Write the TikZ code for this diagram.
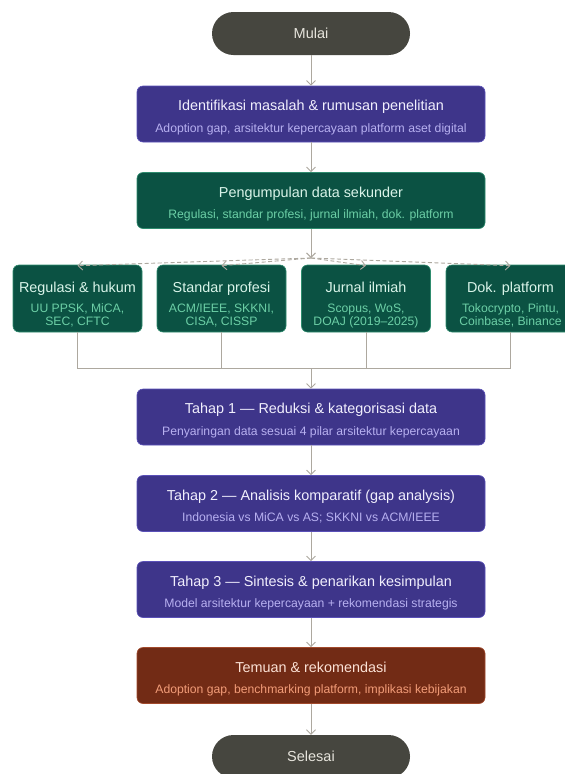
\documentclass[tikz,border=0pt]{standalone}
\usepackage{fontspec}
\setmainfont{Liberation Sans}
\usetikzlibrary{arrows.meta,calc}
\definecolor{pillfill}{HTML}{46463F}
\definecolor{pilltext}{HTML}{E6E4DC}
\definecolor{purfill}{HTML}{3E358A}
\definecolor{purline}{HTML}{5A50B8}
\definecolor{purtitle}{HTML}{F1EFFD}
\definecolor{pursub}{HTML}{B7B0F0}
\definecolor{grnfill}{HTML}{0B5243}
\definecolor{grnline}{HTML}{2E8C6E}
\definecolor{grntitle}{HTML}{D9F4E9}
\definecolor{grnsub}{HTML}{6CCFA6}
\definecolor{brnfill}{HTML}{722B15}
\definecolor{brnline}{HTML}{A24A2C}
\definecolor{brntitle}{HTML}{FBE1D5}
\definecolor{brnsub}{HTML}{F29C78}
\definecolor{conn}{HTML}{ADA89F}
\tikzset{
  pill/.style={rectangle, rounded corners=21.5pt, fill=pillfill, minimum width=198pt, minimum height=43pt, inner sep=0pt, text=pilltext, font=\fontsize{14.5}{16}\selectfont},
  mainbox/.style={rectangle, rounded corners=6pt, minimum width=348pt, minimum height=56pt, inner sep=0pt, line width=0.6pt},
  smallbox/.style={rectangle, rounded corners=6pt, minimum width=129pt, minimum height=67pt, inner sep=0pt, line width=0.6pt, fill=grnfill, draw=grnline},
  purple/.style={fill=purfill, draw=purline},
  green/.style={fill=grnfill, draw=grnline},
  brown/.style={fill=brnfill, draw=brnline},
  ttl/.style={inner sep=0pt, anchor=base, font=\fontsize{14.4}{16}\selectfont},
  sub/.style={inner sep=0pt, anchor=base, font=\fontsize{12.2}{13.5}\selectfont},
  conline/.style={draw=conn, line width=0.9pt},
  arr/.style={conline, -{Straight Barb[length=4.5pt,width=9pt,line width=0.9pt]}},
  darr/.style={arr, dash pattern=on 4pt off 2.5pt},
}
\begin{document}
\begin{tikzpicture}[x=1pt,y=-1pt]
\clip (0,0) rectangle (565,774);
\fill[white] (0,0) rectangle (565,774);
% main column
\node[pill] (mulai) at (311,33.5) {Mulai};
\node[mainbox,purple] (b1) at (311,114) {};
\node[ttl,text=purtitle] (b1t) at ($(b1.north)+(0,25)$) {Identifikasi masalah \& rumusan penelitian};
\node[sub,text=pursub] (b1s) at ($(b1.north)+(0,46.5)$) {Adoption gap, arsitektur kepercayaan platform aset digital};
\node[mainbox,green] (b2) at (311,200.5) {};
\node[ttl,text=grntitle] (b2t) at ($(b2.north)+(0,25)$) {Pengumpulan data sekunder};
\node[sub,text=grnsub] (b2s) at ($(b2.north)+(0,46.5)$) {Regulasi, standar profesi, jurnal ilmiah, dok. platform};
% sources
\node[smallbox] (s1) at (77.5,298.5) {};
\node[ttl,text=grntitle] (s1t) at ($(s1.north)+(0,28)$) {Regulasi \& hukum};
\node[sub,text=grnsub] (s1a) at ($(s1.north)+(0,47.5)$) {UU PPSK, MiCA,};
\node[sub,text=grnsub] (s1b) at ($(s1.north)+(0,60.5)$) {SEC, CFTC};
\node[smallbox] (s2) at (221.5,298.5) {};
\node[ttl,text=grntitle] (s2t) at ($(s2.north)+(0,28)$) {Standar profesi};
\node[sub,text=grnsub] (s2a) at ($(s2.north)+(0,47.5)$) {ACM/IEEE, SKKNI,};
\node[sub,text=grnsub] (s2b) at ($(s2.north)+(0,60.5)$) {CISA, CISSP};
\node[smallbox] (s3) at (366,298.5) {};
\node[ttl,text=grntitle] (s3t) at ($(s3.north)+(0,28)$) {Jurnal ilmiah};
\node[sub,text=grnsub] (s3a) at ($(s3.north)+(0,47.5)$) {Scopus, WoS,};
\node[sub,text=grnsub] (s3b) at ($(s3.north)+(0,60.5)$) {DOAJ (2019--2025)};
\node[smallbox] (s4) at (510.5,298.5) {};
\node[ttl,text=grntitle] (s4t) at ($(s4.north)+(0,28)$) {Dok. platform};
\node[sub,text=grnsub] (s4a) at ($(s4.north)+(0,47.5)$) {Tokocrypto, Pintu,};
\node[sub,text=grnsub] (s4b) at ($(s4.north)+(0,60.5)$) {Coinbase, Binance};
% stages
\node[mainbox,purple] (t1) at (311,417) {};
\node[ttl,text=purtitle] (t1t) at ($(t1.north)+(0,25)$) {Tahap 1 — Reduksi \& kategorisasi data};
\node[sub,text=pursub] (t1s) at ($(t1.north)+(0,46.5)$) {Penyaringan data sesuai 4 pilar arsitektur kepercayaan};
\node[mainbox,purple] (t2) at (311,503.5) {};
\node[ttl,text=purtitle] (t2t) at ($(t2.north)+(0,25)$) {Tahap 2 — Analisis komparatif (gap analysis)};
\node[sub,text=pursub] (t2s) at ($(t2.north)+(0,46.5)$) {Indonesia vs MiCA vs AS; SKKNI vs ACM/IEEE};
\node[mainbox,purple] (t3) at (311,589.5) {};
\node[ttl,text=purtitle] (t3t) at ($(t3.north)+(0,25)$) {Tahap 3 — Sintesis \& penarikan kesimpulan};
\node[sub,text=pursub] (t3s) at ($(t3.north)+(0,46.5)$) {Model arsitektur kepercayaan + rekomendasi strategis};
\node[mainbox,brown] (f) at (311,675.5) {};
\node[ttl,text=brntitle] (ft) at ($(f.north)+(0,25)$) {Temuan \& rekomendasi};
\node[sub,text=brnsub] (fs) at ($(f.north)+(0,46.5)$) {Adoption gap, benchmarking platform, implikasi kebijakan};
\node[pill] (selesai) at (311,756.5) {Selesai};
% connectors
\coordinate (j1) at (311,258);
\coordinate (j2) at (311,368);
\draw[arr] (mulai.south) -- (b1.north);
\draw[arr] (b1.south) -- (b2.north);
\draw[arr] (b2.south) -- (j1);
\draw[darr] (j1) -- ([yshift=-1pt]s1.north);
\draw[darr] (j1) -- ([yshift=-1pt]s2.north);
\draw[darr] (j1) -- ([yshift=-1pt]s3.north);
\draw[darr] (j1) -- ([yshift=-1pt]s4.north);
\draw[conline] (s1.south) |- (j2);
\draw[conline] (s2.south) |- (j2);
\draw[conline] (s3.south) |- (j2);
\draw[conline] (s4.south) |- (j2);
\draw[arr] (j2) -- (t1.north);
\draw[arr] (t1.south) -- (t2.north);
\draw[arr] (t2.south) -- (t3.north);
\draw[arr] (t3.south) -- (f.north);
\draw[arr] (f.south) -- (selesai.north);
\end{tikzpicture}
\end{document}
